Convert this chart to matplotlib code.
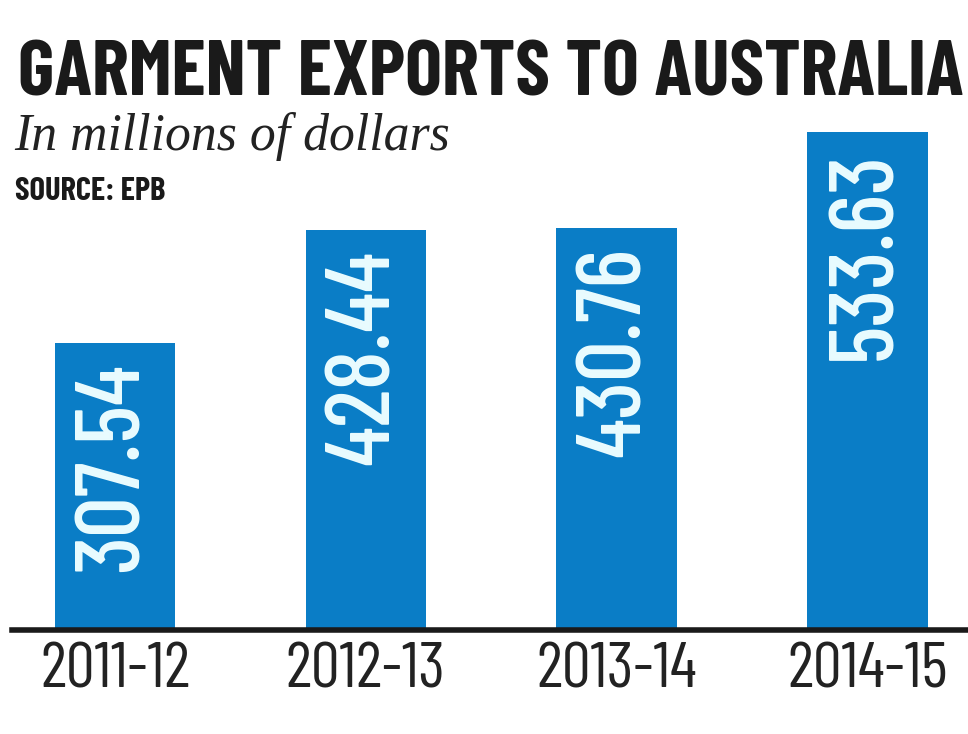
import matplotlib
matplotlib.use("Agg")
import matplotlib.pyplot as plt

categories = ["2011-12", "2012-13", "2013-14", "2014-15"]
values = [307.54, 428.44, 430.76, 533.63]
value_labels = ["307.54", "428.44", "430.76", "533.63"]

COND = ["Barlow Condensed", "Archivo Narrow", "Asap Condensed", "DejaVu Sans"]
SERIF = ["Liberation Serif", "DejaVu Serif"]
BLUE = "#0a7dc6"
W, H = 968, 734

fig = plt.figure(figsize=(W / 100, H / 100), dpi=100)
fig.patch.set_facecolor("white")

ax = fig.add_axes([12 / W, (H - 630) / H, (W - 12) / W, 630 / H])
x = list(range(len(categories)))
ax.bar(x, values, width=0.48, color=BLUE, zorder=2)
ax.set_xlim(-0.41, 3.40)
ax.set_ylim(0, 675)
for s in ["top", "right", "left"]:
    ax.spines[s].set_visible(False)
ax.spines["bottom"].set_linewidth(4)
ax.spines["bottom"].set_color("#1a1a1a")
ax.set_yticks([])
ax.set_xticks(x)
ax.set_xticklabels(categories, family=COND, stretch="condensed", fontsize=40, color="#222222")
ax.tick_params(axis="x", length=0, pad=9)
ax.set_facecolor("none")

vals = []
for xi, v, lab in zip(x, values, value_labels):
    t = ax.annotate(lab, (xi, v), xytext=(0, -14), textcoords="offset points",
                    rotation=90, ha="center", va="top", fontsize=50, fontweight=500,
                    family=COND, stretch="condensed", color="#eafcff")
    vals.append(t)

title = fig.text(18 / W, 1 - 96 / H, "GARMENT EXPORTS TO AUSTRALIA", family=COND, stretch="condensed",
                 fontweight="bold", fontsize=50, color="#1a1a1a", ha="left", va="baseline")
sub = fig.text(14 / W, 1 - 150 / H, "In millions of dollars", family=SERIF,
               style="italic", fontsize=34, color="#222222", ha="left", va="baseline")
src = fig.text(15 / W, 1 - 200 / H, "SOURCE: EPB", family=COND, stretch="condensed",
               fontweight="bold", fontsize=19, color="#1a1a1a", ha="left", va="baseline")

fig.canvas.draw()
r = fig.canvas.get_renderer()

def fit(t, target, horiz=True):
    bb = t.get_window_extent(r)
    size = bb.width if horiz else bb.height
    t.set_fontsize(t.get_fontsize() * target / size)

fit(title, 944)
fit(sub, 436)
fit(src, 150)
tl = ax.get_xticklabels()
bb = tl[0].get_window_extent(r)
fs = tl[0].get_fontsize() * 150 / bb.width
for t in tl:
    t.set_fontsize(fs)
bb = vals[0].get_window_extent(r)
fs = vals[0].get_fontsize() * 210 / bb.height
for t in vals:
    t.set_fontsize(fs)

fig.savefig("out.png", dpi=100, facecolor="white")
